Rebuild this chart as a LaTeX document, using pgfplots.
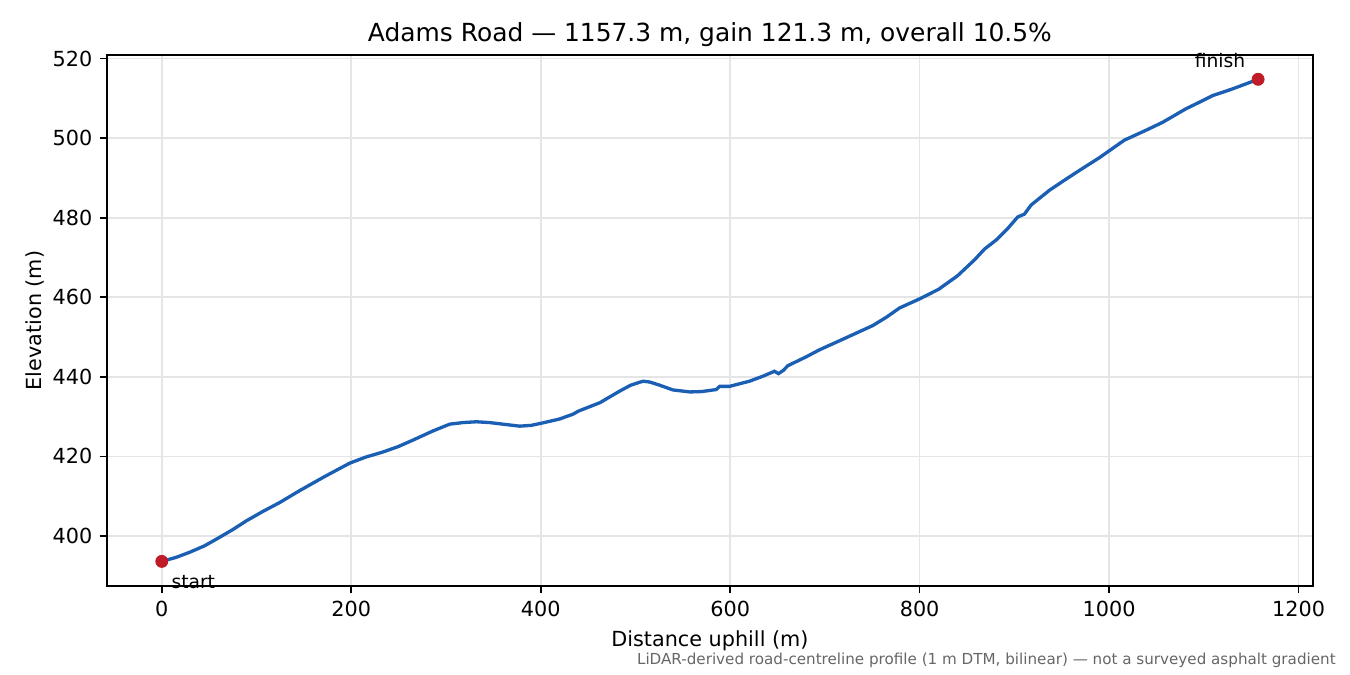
\documentclass[border=0pt]{standalone}
\usepackage{pgfplots}
\pgfplotsset{compat=1.18}
\usepackage{fontspec}
\setmainfont{DejaVu Sans}
\definecolor{lineblue}{HTML}{1A5FB4}
\definecolor{dotred}{HTML}{C01C28}
\definecolor{notegray}{HTML}{666666}
\begin{document}
\begin{tikzpicture}
\path[use as bounding box] (0,0) rectangle (9in,4.5in);
\begin{axis}[
    at={(0.713in,0.593in)}, anchor=south west,
    scale only axis, width=8.04in, height=3.54in,
    xmin=-57.9, xmax=1215.2, ymin=387.4, ymax=520.9,
    xtick={0,200,...,1200}, ytick={400,420,...,520},
    tick align=outside, tick pos=left, major tick length=3.5pt,
    axis line style={black, line width=0.8pt},
    every tick/.style={black, line width=0.8pt},
    grid=major, major grid style={black!10, line width=0.8pt},
    /pgf/number format/assume math mode=true,
    /pgf/number format/1000 sep={},
    tick label style={font=\fontsize{10}{12}\selectfont},
    label style={font=\fontsize{10}{12}\selectfont},
    xlabel={Distance uphill (m)}, ylabel={Elevation (m)},
    ylabel style={xshift=0pt, yshift=-3pt},
    title={Adams Road — 1157.3 m, gain 121.3 m, overall 10.5\%},
    title style={font=\fontsize{12}{14}\selectfont, yshift=-5.5pt},
    clip=false,
]
\addplot[lineblue, line width=1.6pt] coordinates {
(0,393.6) (15,394.6) (29.5,395.9) (45,397.5) (57.7,399.2) (75,401.6) (89.3,403.8)
(107,406.2) (124.5,408.4) (145.6,411.4) (170.2,414.7) (185,416.6) (198.4,418.3)
(215,419.8) (233.5,421.1) (250,422.5) (265.2,424.1) (286.3,426.4) (303.9,428.1)
(318,428.5) (332,428.7) (346,428.5) (360,428.1) (377.8,427.6) (390,427.8)
(400,428.3) (420,429.4) (434,430.6) (440,431.4) (462.5,433.5) (483.3,436.4)
(495,437.9) (507.9,438.9) (515,438.7) (525.5,437.9) (539.6,436.7) (557.5,436.2)
(570,436.3) (585.3,436.8) (588.8,437.6) (599.3,437.6) (620.4,438.9) (635,440.2)
(646.8,441.4) (651,440.8) (656,441.6) (660.9,442.8) (680,445.0) (694.3,446.8)
(712,448.7) (729.5,450.6) (750.6,452.9) (765,455.0) (778.7,457.3) (800,459.6)
(820,462.0) (840,465.4) (857.9,469.4) (868.4,472.1) (880.8,474.4) (893,477.3)
(903.6,480.2) (910.6,480.9) (917.7,483.2) (937,486.9) (952,489.3) (968.7,491.9)
(989.8,495.1) (1016.1,499.5) (1039,502) (1056.6,504) (1081.2,507.4) (1095,509)
(1109.3,510.7) (1130.4,512.4) (1145,513.7) (1157.3,514.8)
};
\addplot[only marks, mark=*, mark size=2.9pt, dotred, mark options={draw=dotred, fill=dotred}]
coordinates {(0,393.6) (1157.3,514.8)};
\node[anchor=north west, font=\fontsize{9}{11}\selectfont, inner sep=0pt]
  at ([xshift=4.5pt, yshift=-6.5pt]axis cs:0,393.6) {start};
\node[anchor=south east, font=\fontsize{9}{11}\selectfont, inner sep=0pt]
  at ([xshift=-6pt, yshift=5.5pt]axis cs:1157.3,514.8) {finish};
\end{axis}
\node[anchor=east, font=\fontsize{7.3}{9}\selectfont, text=notegray, inner sep=0pt]
  at (8.907in,0.1in) {LiDAR-derived road-centreline profile (1 m DTM, bilinear) — not a surveyed asphalt gradient};
\end{tikzpicture}
\end{document}
